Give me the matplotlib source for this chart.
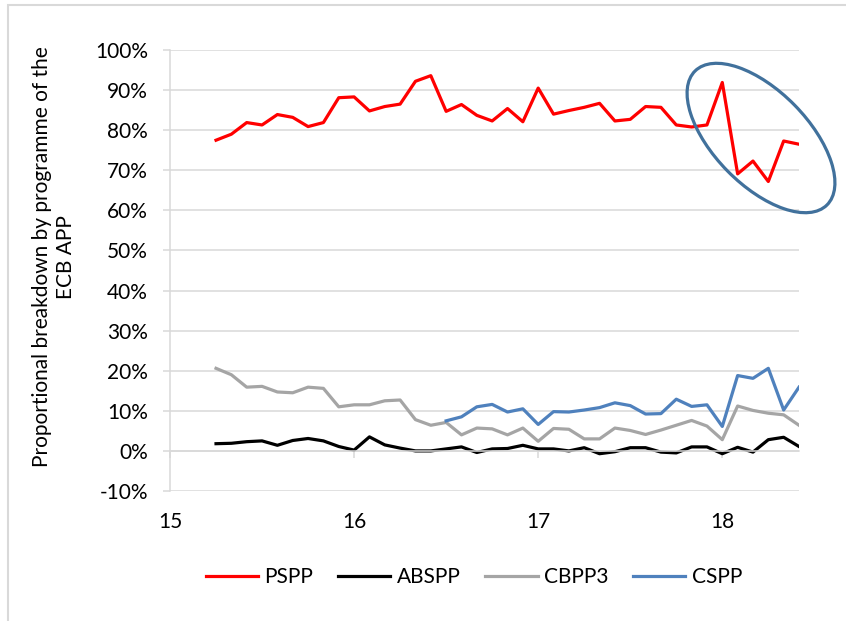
import numpy as np
import pandas as pd
import matplotlib
matplotlib.use('Agg')
import matplotlib.pyplot as plt
from matplotlib.ticker import PercentFormatter
from matplotlib.patches import Ellipse, Rectangle

plt.rcParams['font.family'] = ['Lato', 'DejaVu Sans']
plt.rcParams['axes.unicode_minus'] = False

# monthly, Mar 2015 .. May 2018
months = pd.period_range('2015-03', '2018-05', freq='M')
x = months.year - 2000 + months.month / 12.0

pspp = [77.5, 79.0, 81.9, 81.3, 83.9, 83.2, 80.9, 81.9, 88.1, 88.3,
        84.8, 85.9, 86.5, 92.2, 93.6, 84.7, 86.4, 83.7, 82.3, 85.4,
        82.1, 90.5, 84.0, 84.9, 85.7, 86.7, 82.3, 82.7, 85.9, 85.7,
        81.3, 80.8, 81.3, 91.9, 69.1, 72.3, 67.2, 77.3, 76.5]
abspp = [1.8, 1.9, 2.3, 2.5, 1.4, 2.6, 3.1, 2.5, 1.1, 0.2,
         3.5, 1.5, 0.7, 0.0, 0.0, 0.5, 1.0, -0.4, 0.5, 0.6,
         1.4, 0.5, 0.5, 0.0, 0.8, -0.7, -0.2, 0.8, 0.8, -0.3,
         -0.5, 1.0, 1.0, -0.7, 0.9, -0.3, 2.8, 3.4, 1.1]
cbpp3 = [20.6, 19.0, 15.9, 16.1, 14.7, 14.5, 15.9, 15.6, 11.0, 11.5,
         11.5, 12.5, 12.7, 7.8, 6.4, 7.1, 4.0, 5.7, 5.5, 4.0,
         5.7, 2.4, 5.6, 5.4, 3.0, 3.0, 5.7, 5.1, 4.1, 5.2,
         6.4, 7.6, 6.2, 2.8, 11.2, 10.1, 9.4, 9.0, 6.4]
# CSPP starts Jun 2016
cspp = [7.5, 8.5, 11.0, 11.6, 9.7, 10.5, 6.6, 9.8, 9.7, 10.2,
        10.8, 12.0, 11.3, 9.2, 9.3, 12.9, 11.1, 11.5, 6.1, 18.8,
        18.1, 20.6, 10.2, 15.9]

W, H = 846, 621
fs = 15
fig = plt.figure(figsize=(W / 100, H / 100), dpi=100)
ax = fig.add_axes([170 / W, 1 - 491 / H, (799 - 170) / W, (491 - 50) / H])

lw = 2.3
ax.plot(x, np.array(pspp) / 100, color='#ff0000', lw=lw, label='PSPP')
ax.plot(x, np.array(abspp) / 100, color='#000000', lw=lw, label='ABSPP')
ax.plot(x, np.array(cbpp3) / 100, color='#a5a5a5', lw=lw, label='CBPP3')
ax.plot(x[len(x) - len(cspp):], np.array(cspp) / 100, color='#4f81bd', lw=lw, label='CSPP')

ax.set_xlim(15, 18 + 5 / 12)
ax.set_ylim(-0.1, 1.0)
ax.set_yticks(np.arange(-0.1, 1.001, 0.1))
ax.yaxis.set_major_formatter(PercentFormatter(1.0, decimals=0))
ax.set_xticks([15, 16, 17, 18])

grey = '#d9d9d9'
ax.yaxis.grid(True, color=grey, lw=1.1)
ax.set_axisbelow(True)
for s in ['top', 'right']:
    ax.spines[s].set_visible(False)
ax.spines['left'].set_color(grey)
ax.spines['left'].set_linewidth(1.1)
ax.spines['bottom'].set_position(('data', 0))
ax.spines['bottom'].set_color(grey)
ax.spines['bottom'].set_linewidth(1.1)
ax.tick_params(axis='y', direction='out', length=5, color=grey, width=1.1,
               pad=11, labelsize=fs)
ax.tick_params(axis='x', direction='out', length=5, color=grey, width=1.1,
               labelbottom=False)

sec = ax.secondary_xaxis(0.0)
sec.set_xticks([15, 16, 17, 18])
sec.spines['bottom'].set_visible(False)
sec.tick_params(length=0, pad=15, labelsize=fs)

fig.text(54 / W, 1 - 257 / H, 'Proportional breakdown by programme of the\nECB APP',
         rotation=90, ha='center', va='center', multialignment='center',
         fontsize=fs, linespacing=1.25)

fig.legend(loc='center', bbox_to_anchor=(474 / W, 1 - 577 / H), ncol=4,
           frameon=False, fontsize=fs, handlelength=2.5, handletextpad=0.3,
           columnspacing=1.2)

# highlight circle around the 2018 drop
fig.add_artist(Ellipse((7.61, (H - 138) / 100), 1.88, 0.94, angle=-45.5,
                       transform=fig.dpi_scale_trans, fill=False,
                       edgecolor='#41719c', lw=2.3))

# chart area border
fig.add_artist(Rectangle((8 / W, -0.1), 1.2, 1.1 - 5 / H, transform=fig.transFigure,
                         fill=False, edgecolor=grey, lw=1.5))

fig.savefig('out.png', dpi=100)
